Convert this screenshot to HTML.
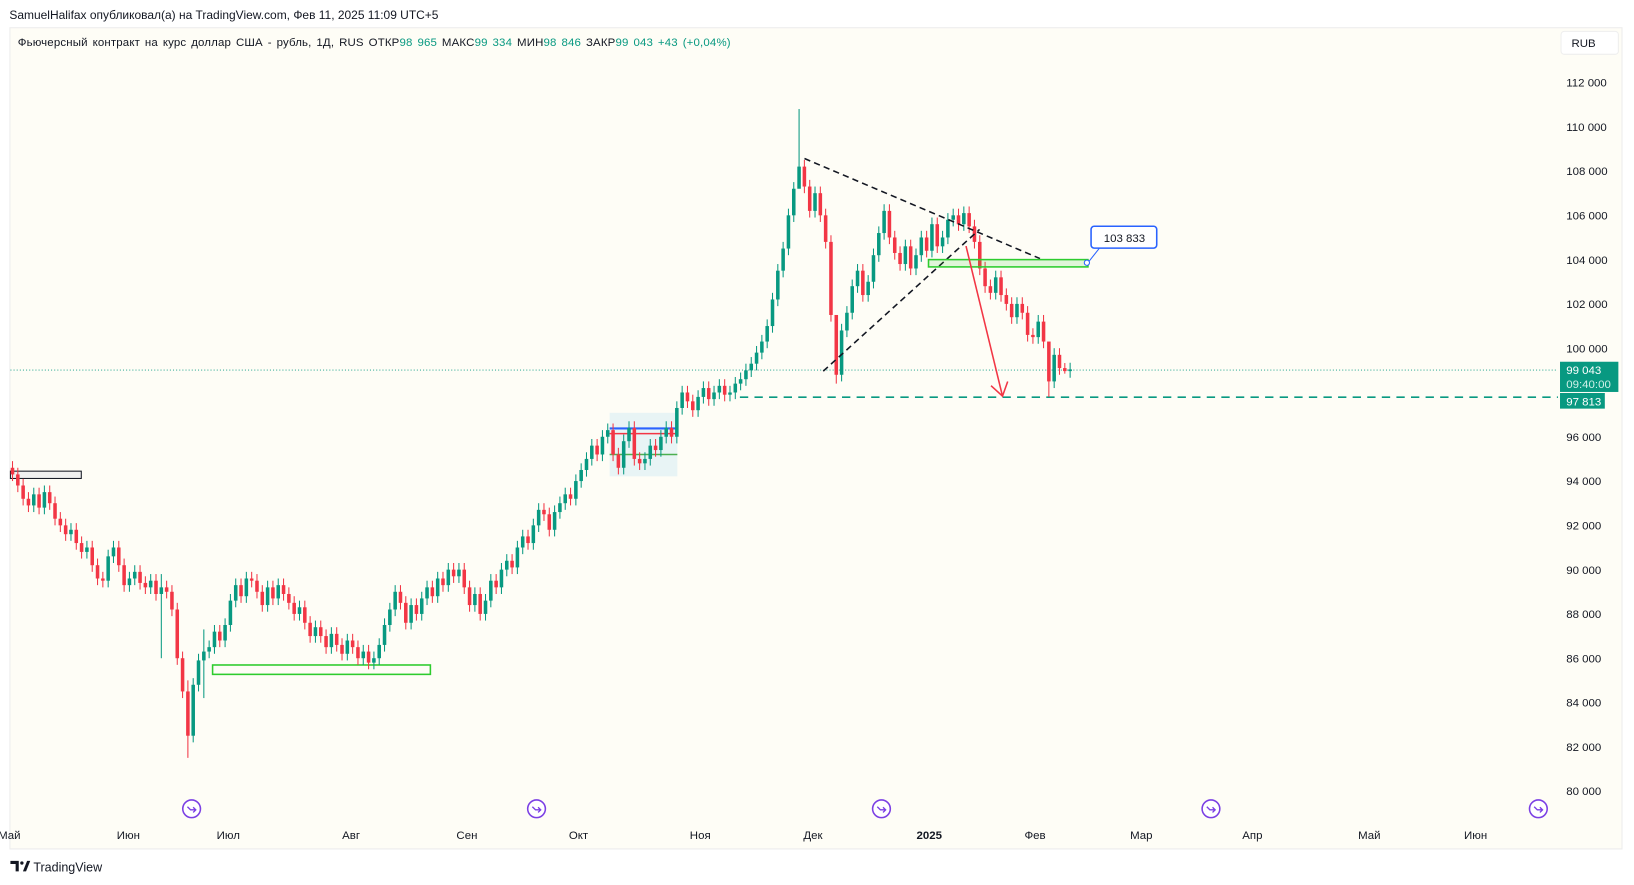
<!DOCTYPE html>
<html><head><meta charset="utf-8">
<style>
html,body{margin:0;padding:0;background:#fff;}
svg{display:block;font-family:"Liberation Sans","DejaVu Sans",sans-serif;}
</style></head>
<body>
<svg id="chart" width="1634" height="885" viewBox="0 0 1568 849" xmlns="http://www.w3.org/2000/svg">
<text x="9" y="18" font-size="11.5" fill="#131722">SamuelHalifax опубликовал(а) на TradingView.com, Фев 11, 2025 11:09 UTC+5</text>
<rect x="9.5" y="26.5" width="1547" height="788" fill="#fefdf6" stroke="#ececec"/>
<text x="17" y="44" font-size="11" letter-spacing="0.15" word-spacing="1.5" fill="#131722">Фьючерсный контракт на курс доллар США - рубль, 1Д, RUS  ОТКР<tspan fill="#089981">98 965</tspan>  МАКС<tspan fill="#089981">99 334</tspan>  МИН<tspan fill="#089981">98 846</tspan>  ЗАКР<tspan fill="#089981">99 043  +43 (+0,04%)</tspan></text>
<g><rect x="1498" y="30" width="55" height="22" rx="3" fill="#fff" stroke="#eee"/><text x="1508" y="45" font-size="11" fill="#131722">RUB</text></g>
<g id="yaxis"></g>
<g id="xaxis"></g>
<line x1="10" y1="355" x2="1495" y2="355" stroke="#089981" stroke-width="0.8" stroke-dasharray="1,2"/>
<line x1="710" y1="381" x2="1495" y2="381" stroke="#089981" stroke-width="1.5" stroke-dasharray="8,6"/>
<g>
<rect x="585" y="396" width="65" height="61" fill="#d8eef5" opacity="0.6"/>
<line x1="585" y1="411" x2="650" y2="411" stroke="#2962ff" stroke-width="2"/>
<line x1="585" y1="416" x2="650" y2="416" stroke="#f23645" stroke-width="1.5"/>
<line x1="585" y1="436" x2="650" y2="436" stroke="#4caf50" stroke-width="1.5"/>
</g>
<rect x="10" y="452" width="68" height="7" fill="#f0f0f0" stroke="#131722" stroke-width="1"/>
<rect x="204" y="638" width="209" height="9" fill="none" stroke="#2ecc2e" stroke-width="1.5"/>
<g id="candles"></g>
<line x1="772" y1="152" x2="998" y2="248" stroke="#131722" stroke-width="1.5" stroke-dasharray="6,4"/>
<line x1="790" y1="356" x2="940" y2="220" stroke="#131722" stroke-width="1.5" stroke-dasharray="6,4"/>
<rect x="891" y="249" width="153" height="7" fill="rgba(46,204,46,0.15)" stroke="#2ecc2e" stroke-width="1.5"/>
<g>
<line x1="1044" y1="252" x2="1055" y2="238" stroke="#2962ff" stroke-width="1"/>
<circle cx="1043" cy="252" r="2.5" fill="#fff" stroke="#2962ff"/>
<rect x="1047" y="217" width="63" height="21" rx="3" fill="#fff" stroke="#2962ff" stroke-width="1.5"/>
<text x="1079" y="232" font-size="11" text-anchor="middle" fill="#131722">103 833</text>
</g>
<g stroke="#f23645" stroke-width="1.5" fill="none">
<line x1="927" y1="236" x2="962" y2="380"/>
<polyline points="951,370 962,380 967,366"/>
</g>
<g>
<rect x="1497" y="347" width="56" height="29" fill="#089981"/>
<text x="1503" y="359" font-size="11" fill="#fff">99 043</text>
<text x="1503" y="372" font-size="11" fill="#d0f0e8">09:40:00</text>
<rect x="1497" y="377" width="43" height="15" fill="#089981"/>
<text x="1503" y="389" font-size="11" fill="#fff">97 813</text>
</g>
<g id="events"></g>
<g>
<path d="M10 826 h8 v10 h-3 v-7 h-5 z" fill="#131722"/>
<circle cx="21" cy="828" r="1.6" fill="#131722"/>
<path d="M22 836 l4 -10 h3 l-4 10 z" fill="#131722"/>
<text x="32" y="836" font-size="12" fill="#131722">TradingView</text>
</g>
</svg>
<script>
const closes=[94.3,93.8,93.2,92.9,93.4,92.8,93.5,93.0,92.3,92.0,91.6,91.8,91.2,90.8,91.0,90.2,89.6,89.5,
90.6,91.0,90.2,89.3,89.6,89.9,89.4,89.2,89.5,88.9,89.2,89.0,
88.2,86.0,84.5,82.5,84.8,85.9,86.3,86.5,
87.2,86.8,87.5,88.6,89.3,88.8,89.6,89.5,
89.0,88.4,89.2,88.7,89.3,88.9,88.5,
88.0,88.3,87.6,87.0,87.4,87.0,
86.5,87.1,86.6,86.2,86.8,86.5,
86.0,86.3,85.8,86.0,86.6,87.5,88.2,89.0,
88.5,87.6,88.4,88.0,
88.7,89.2,88.8,89.6,89.3,90.0,89.7,90.0,
89.2,88.4,88.9,88.0,
88.6,89.5,89.2,90.0,90.4,90.1,91.0,91.5,
91.2,92.0,92.7,92.5,
91.8,92.6,93.0,93.4,93.2,94.0,94.5,
95.0,95.6,95.2,96.0,
96.3,95.2,94.6,95.8,96.4,95.0,94.8,95.0,
95.6,95.4,96.0,96.4,96.0,97.3,98.0,
97.6,97.2,97.8,98.2,97.7,98.0,98.3,97.9,98.0,
98.4,98.6,99.0,99.3,99.8,100.3,
101.0,102.2,103.5,104.5,
106.0,107.2,108.2,
107.3,106.2,107.0,106.0,
104.8,101.5,98.8,
100.8,101.6,102.8,103.5,102.4,103.0,
104.2,105.2,106.2,
105.0,104.3,103.8,104.6,103.6,104.2,
105.0,104.4,105.6,104.6,105.0,105.8,106.0,105.6,106.1,
105.5,104.8,103.6,102.8,102.5,
103.2,102.4,102.0,101.4,102.0,101.6,100.6,100.5,
101.2,100.3,98.5,
99.7,99.1,98.965,99.043];
const firstOpen=94.6;
const spikeIdx=[28,33,36,148,155,195,198];
const spikeHigh=[89.8,85.0,87.3,110.8,101.0,100.2,99.33];
const spikeLow=[86.0,81.5,84.2,107.5,98.4,97.8,98.85];
const yTicks=[112,110,108,106,104,102,100,96,94,92,90,88,86,84,82,80];
const monthLabels=["Май","Июн","Июл","Авг","Сен","Окт","Ноя","Дек","2025","Фев","Мар","Апр","Май","Июн"];
const monthBars=[-0.6,21.8,40.6,63.7,85.5,106.5,129.4,150.6,172.5,192.4,212.4,233.3,255.3,275.3];
const eventBars=[33.7,98.6,163.5,225.5,287.1];

const NS="http://www.w3.org/2000/svg";
function xs(i){return 12+i*5.1;}
function ys(p){return 79+(112-p)/2*42.5;}
function mk(tag,attrs,parent){const e=document.createElementNS(NS,tag);for(const k in attrs)e.setAttribute(k,attrs[k]);parent.appendChild(e);return e;}
const yg=document.getElementById('yaxis');
yTicks.forEach(v=>{const t=mk('text',{x:1503,y:ys(v)+4,'font-size':11,fill:'#131722'},yg);


t.textContent=v+' 000';});
const xg=document.getElementById('xaxis');
monthLabels.forEach((m,i)=>{const t=mk('text',{x:xs(monthBars[i]),y:805,'font-size':11,'text-anchor':'middle',fill:'#131722','font-weight':m==='2025'?'bold':'normal'},xg);


t.textContent=m;});
const cg=document.getElementById('candles');
closes.forEach((c,i)=>{const o=i===0?firstOpen:closes[i-1];const up=c>=o;const col=up?'#089981':'#f23645';
let hi=Math.max(o,c)+0.3,lo=Math.min(o,c)-0.3;const k=spikeIdx.indexOf(i);if(k>=0){hi=spikeHigh[k];lo=spikeLow[k];}
const g=mk('g',{},cg);


const x=xs(i);
mk('line',{x1:x,x2:x,y1:ys(hi),y2:ys(lo),stroke:col,'stroke-width':1},g);
const top=ys(Math.max(o,c)),bot=ys(Math.min(o,c));
mk('rect',{x:x-1.7,y:top,width:3.4,height:Math.max(1,bot-top),fill:col},g);});
const eg=document.getElementById('events');
eventBars.forEach(b=>{const g=mk('g',{},eg);


const x=xs(b);mk('circle',{cx:x,cy:776,r:8.5,fill:'#fff',stroke:'#7b3fe4','stroke-width':1.5},g);
mk('path',{d:`M${x-4} ${776-2} L${x-1} ${776+1} L${x+4} ${776+1} M${x+1.5} ${776-1.5} L${x+4} ${776+1} L${x+1.5} ${776+3.5}`,fill:'none',stroke:'#7b3fe4','stroke-width':1.3},g);});
</script>
</body></html>
